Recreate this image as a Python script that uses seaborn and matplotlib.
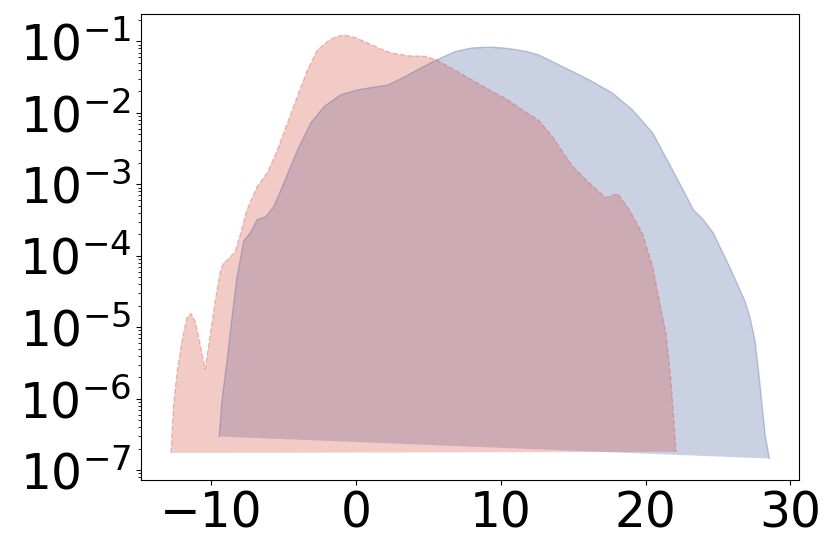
import matplotlib
matplotlib.use('Agg')
import matplotlib.pyplot as plt
from matplotlib.ticker import LogLocator
import seaborn as sns
import pandas as pd

# curve (x, density)
red_x = [-12.78, -12.62, -12.38, -12.03, -11.69, -11.41, -11.1, -10.77, -10.42, -10.07,
         -9.73, -9.38, -9.15, -8.8, -8.34, -7.99, -7.53, -6.83, -6.13, -5.44,
         -4.74, -4.05, -3.35, -2.66, -1.97, -1.4, -0.81, 0.0, 0.81, 1.6, 2.43, 3.59, 4.75,
         5.56, 6.8, 7.99, 9.2, 10.31, 11.5, 12.6, 13.55, 14.94, 16.1, 17.25, 18.07, 18.88,
         19.8, 20.5, 20.96, 21.42, 21.77, 22.1]
red_y = [1.74e-7, 7.4e-7, 2.2e-6, 6.3e-6, 1.35e-5, 1.55e-5, 1.2e-5, 5.8e-6, 2.6e-6, 7.9e-6,
         2.3e-5, 6.0e-5, 7.9e-5, 9.1e-5, 1.15e-4, 2.0e-4, 4.4e-4, 9.3e-4, 1.45e-3, 3.0e-3,
         7.2e-3, 1.7e-2, 4.0e-2, 7.6e-2, 0.100, 0.116, 0.123, 0.112, 0.095, 0.080, 0.069, 0.063, 0.062,
         0.055, 0.040, 0.029, 0.021, 0.016, 0.011, 7.9e-3, 4.7e-3, 1.8e-3, 1.05e-3, 6.5e-4, 7.4e-4, 4.4e-4,
         2.0e-4, 6.8e-5, 2.3e-5, 7.9e-6, 1.6e-6, 1.8e-7]

blue_x = [-9.45, -9.27, -8.92, -8.57, -8.23, -7.76, -7.3, -6.83, -6.25, -5.68,
          -4.98, -4.05, -3.13, -2.2, -1.04, 0.12, 1.27, 2.2, 3.36, 4.52,
          5.56, 6.83, 7.99, 8.7, 9.38, 10.2, 11.0, 11.8, 12.6, 13.5, 14.5, 15.3, 16.1, 17.7, 19.1,
          20.5, 21.6, 22.6, 23.3, 23.98, 24.67, 25.83, 26.87, 27.22, 27.57,
          27.9, 28.25, 28.55]
blue_y = [2.95e-7, 9.1e-7, 3.3e-6, 1.35e-5, 4.9e-5, 1.6e-4, 2.1e-4, 3.2e-4, 3.5e-4, 4.9e-4,
          1.05e-3, 3.0e-3, 7.2e-3, 1.23e-2, 1.8e-2, 2.1e-2, 2.3e-2, 2.45e-2, 3.2e-2, 4.3e-2,
          5.5e-2, 7.2e-2, 8.1e-2, 8.25e-2, 8.3e-2, 8.1e-2, 7.7e-2, 7.2e-2, 6.5e-2, 5.3e-2, 4.2e-2,
          3.5e-2, 2.9e-2, 1.9e-2, 1.1e-2,
          5.2e-3, 2.0e-3, 8.3e-4, 4.4e-4, 3.2e-4, 2.1e-4, 6.8e-5, 2.3e-5, 1.35e-5, 6.3e-6,
          1.6e-6, 3.2e-7, 1.45e-7]

blue_color = '#5069a5'
red_color = '#d45548'

df_red = pd.DataFrame({'x': red_x, 'y': red_y})
df_blue = pd.DataFrame({'x': blue_x, 'y': blue_y})

plt.rcParams['font.size'] = 35
fig, ax = plt.subplots(figsize=(8.3, 5.54), dpi=100)
fig.subplots_adjust(left=0.170, right=0.963, top=0.975, bottom=0.134)

ax.set_yscale('log')

# blue first, red over it
ax.fill(df_blue['x'], df_blue['y'], color=blue_color, alpha=0.3, linewidth=0)
sns.lineplot(data=df_blue, x='x', y='y', sort=False, ax=ax,
             color=blue_color, alpha=0.35, linewidth=1)
ax.fill(df_red['x'], df_red['y'], color=red_color, alpha=0.3, linewidth=0)
sns.lineplot(data=df_red, x='x', y='y', sort=False, ax=ax,
             color=red_color, alpha=0.35, linewidth=1, linestyle='--')

ax.set_xlabel('')
ax.set_ylabel('')
ax.set_xticks([-10, 0, 10, 20, 30])
ax.yaxis.set_major_locator(LogLocator(base=10, numticks=20))
ax.yaxis.set_minor_locator(LogLocator(base=10, subs=range(2, 10), numticks=20))
ax.tick_params(labelsize=35)

plt.savefig('out.png', dpi=100)
